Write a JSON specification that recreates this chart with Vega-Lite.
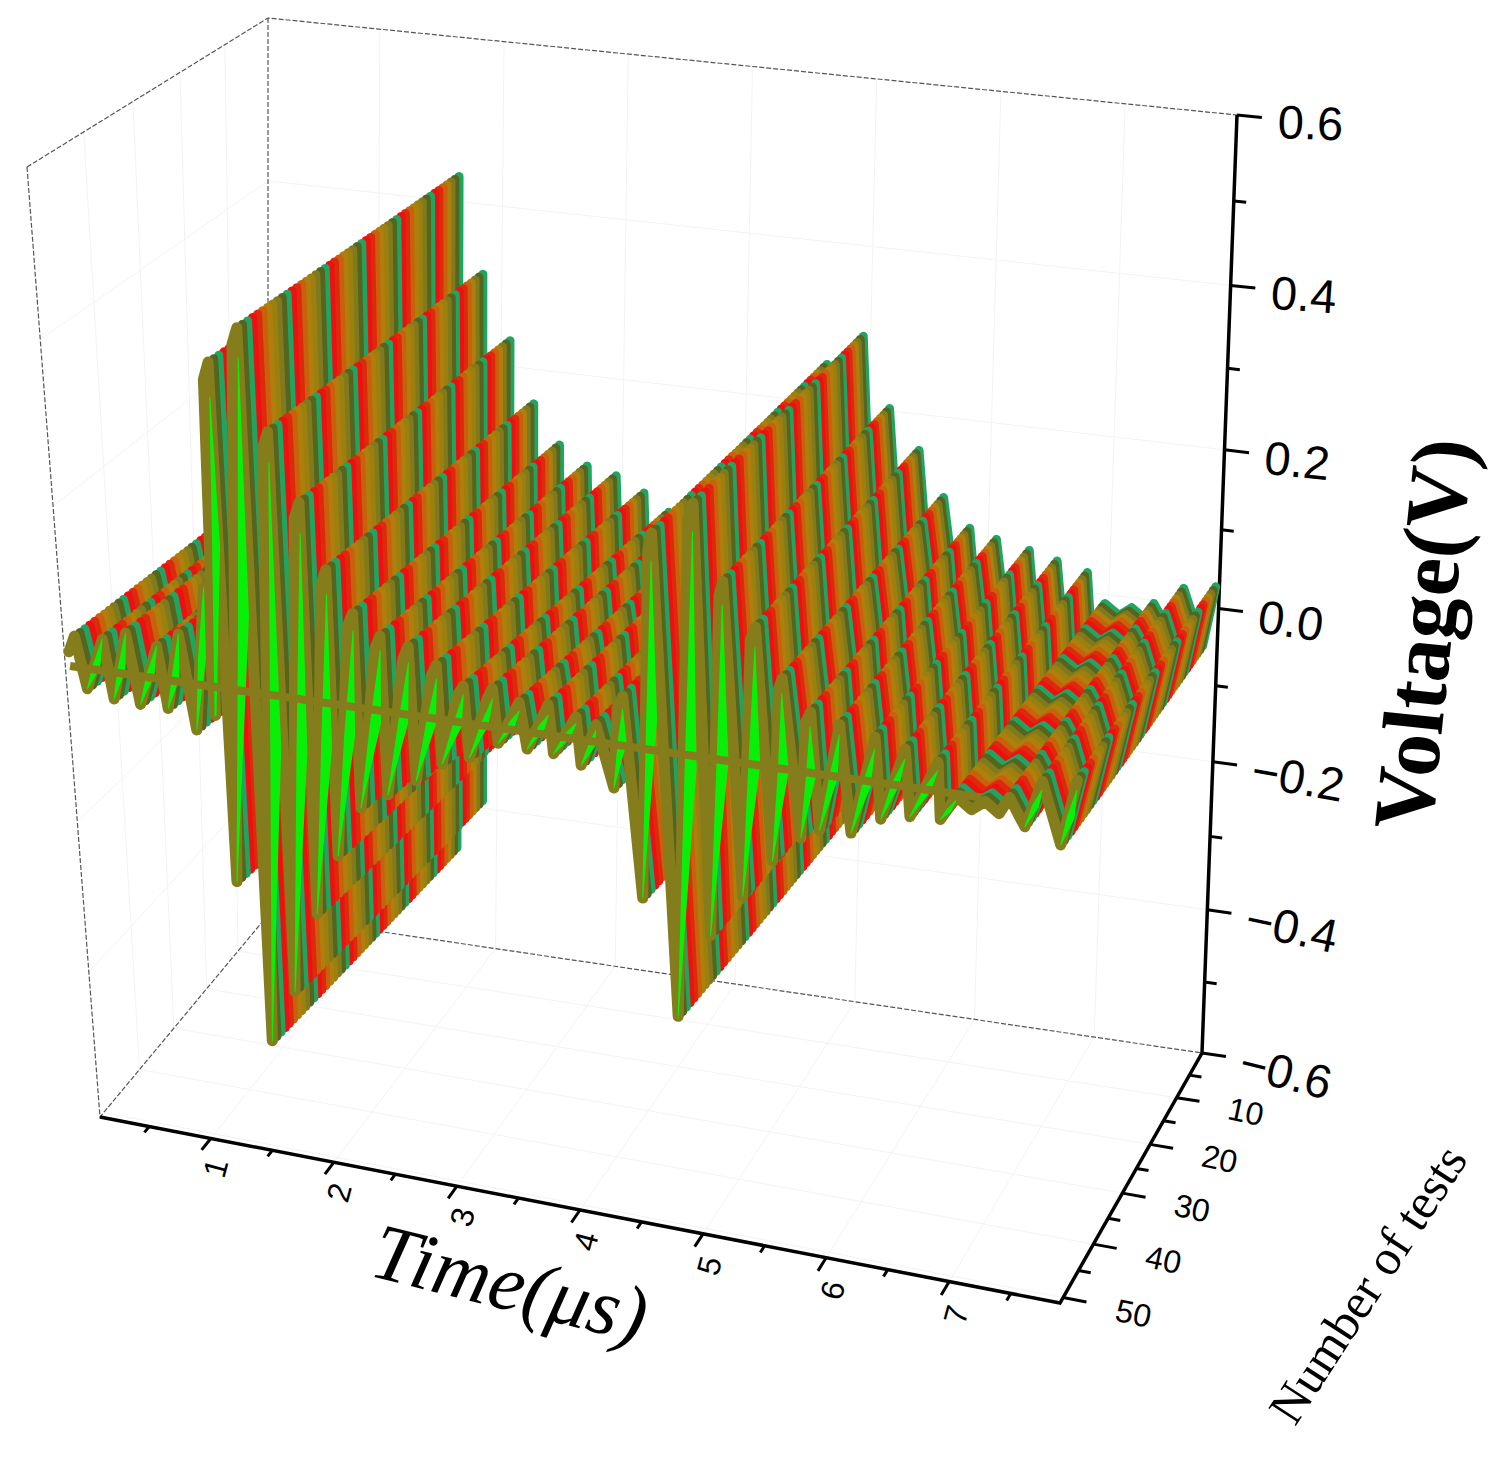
{"$schema":"https://vega.github.io/schema/vega-lite/v6.json","width":1502,"height":1471,"padding":0,"autosize":{"type":"none"},"background":"white","config":{"view":{"stroke":null}},
"datasets":{"wave":[
{"t":0.1,"v":0.014,"l":1},{"t":0.15,"v":0.035,"l":1},{"t":0.22,"v":-0.03,"l":1},{"t":0.36,"v":0.036,"l":1},{"t":0.42,"v":-0.038,"l":1},{"t":0.54,"v":0.048,"l":1},{"t":0.62,"v":-0.04,"l":1},{"t":0.77,"v":0.037,"l":1},{"t":0.83,"v":-0.04,"l":1},{"t":0.94,"v":0.056,"l":1},{"t":1.04,"v":-0.062,"l":1},{"t":1.15,"v":0.118,"l":1},{"t":1.19,"v":-0.04,"l":1},
{"t":1.23,"v":0.37,"l":2},{"t":1.27,"v":0.391,"l":2},{"t":1.29,"v":-0.251,"l":2},
{"t":1.45,"v":0.415,"l":3},{"t":1.49,"v":0.435,"l":3},{"t":1.51,"v":-0.456,"l":3},
{"t":1.64,"v":0.297,"l":4},{"t":1.68,"v":0.317,"l":4},{"t":1.71,"v":-0.384,"l":4},
{"t":1.85,"v":0.217,"l":5},{"t":1.89,"v":0.237,"l":5},{"t":1.91,"v":-0.276,"l":5},
{"t":2.03,"v":0.14,"l":6},{"t":2.07,"v":0.16,"l":6},{"t":2.09,"v":-0.196,"l":6},
{"t":2.22,"v":0.095,"l":7},{"t":2.26,"v":0.111,"l":7},{"t":2.28,"v":-0.13,"l":7},
{"t":2.42,"v":0.072,"l":8},{"t":2.46,"v":0.088,"l":8},{"t":2.49,"v":-0.108,"l":8},
{"t":2.63,"v":0.064,"l":9},{"t":2.67,"v":0.08,"l":9},{"t":2.71,"v":-0.085,"l":9},
{"t":2.84,"v":0.048,"l":10},{"t":2.88,"v":0.062,"l":10},{"t":2.91,"v":-0.059,"l":10},
{"t":3.04,"v":0.03,"l":11},{"t":3.08,"v":0.041,"l":11},{"t":3.12,"v":-0.046,"l":11},
{"t":3.26,"v":0.03,"l":12},{"t":3.3,"v":0.043,"l":12},{"t":3.34,"v":-0.023,"l":12},{"t":3.5,"v":0.031,"l":12},{"t":3.56,"v":-0.025,"l":12},{"t":3.72,"v":0.033,"l":12},{"t":3.76,"v":-0.026,"l":12},{"t":3.93,"v":0.023,"l":12},{"t":3.97,"v":-0.035,"l":12},{"t":4.08,"v":0.017,"l":12},{"t":4.22,"v":-0.057,"l":12},
{"t":4.24,"v":0.04,"l":13},{"t":4.28,"v":0.056,"l":13},{"t":4.45,"v":-0.188,"l":13},
{"t":4.455,"v":0.233,"l":14},{"t":4.48,"v":0.253,"l":14},{"t":4.74,"v":-0.33,"l":14},
{"t":4.745,"v":0.273,"l":15},{"t":4.78,"v":0.293,"l":15},{"t":4.98,"v":-0.221,"l":15},
{"t":4.985,"v":0.19,"l":16},{"t":5.01,"v":0.207,"l":16},{"t":5.22,"v":-0.166,"l":16},
{"t":5.225,"v":0.143,"l":17},{"t":5.26,"v":0.159,"l":17},{"t":5.44,"v":-0.117,"l":17},
{"t":5.445,"v":0.09,"l":18},{"t":5.47,"v":0.103,"l":18},{"t":5.65,"v":-0.084,"l":18},
{"t":5.655,"v":0.055,"l":19},{"t":5.69,"v":0.068,"l":19},{"t":5.79,"v":-0.071,"l":19},{"t":5.91,"v":0.058,"l":19},{"t":6.03,"v":-0.069,"l":19},{"t":6.18,"v":0.049,"l":19},{"t":6.25,"v":-0.047,"l":19},{"t":6.41,"v":0.04,"l":19},{"t":6.47,"v":-0.039,"l":19},{"t":6.66,"v":0.03,"l":19},{"t":6.7,"v":-0.037,"l":19},{"t":6.81,"v":-0.007,"l":19},{"t":6.93,"v":-0.02,"l":19},{"t":7.03,"v":-0.008,"l":19},{"t":7.14,"v":-0.02,"l":19},{"t":7.21,"v":0.001,"l":19},{"t":7.34,"v":-0.031,"l":19},{"t":7.45,"v":0.025,"l":19},{"t":7.62,"v":-0.046,"l":19},{"t":7.71,"v":0.032,"l":19}],
"rise":[
{"r":"w1","t":0.22,"v":-0.03,"z":1},{"r":"w1","t":0.3,"v":0.0,"z":8},{"r":"w1","t":0.36,"v":0.036,"z":0},
{"r":"w2","t":0.42,"v":-0.038,"z":1},{"r":"w2","t":0.49,"v":0.0,"z":8},{"r":"w2","t":0.54,"v":0.048,"z":0},
{"r":"w3","t":0.62,"v":-0.04,"z":1},{"r":"w3","t":0.71,"v":0.0,"z":8},{"r":"w3","t":0.77,"v":0.037,"z":0},
{"r":"w4","t":0.83,"v":-0.04,"z":1},{"r":"w4","t":0.9,"v":0.0,"z":8},{"r":"w4","t":0.94,"v":0.056,"z":0},
{"r":"w5","t":1.04,"v":-0.062,"z":1},{"r":"w5","t":1.11,"v":0.03,"z":8},{"r":"w5","t":1.15,"v":0.118,"z":0},
{"r":"a","t":1.19,"v":-0.04,"z":2},{"r":"a","t":1.26,"v":0.17,"z":8},{"r":"a","t":1.27,"v":0.35,"z":0},
{"r":"b","t":1.29,"v":-0.251,"z":1},{"r":"b","t":1.44,"v":0.09,"z":11},{"r":"b","t":1.49,"v":0.4,"z":0},
{"r":"c","t":1.51,"v":-0.456,"z":1},{"r":"c","t":1.64,"v":-0.07,"z":11},{"r":"c","t":1.68,"v":0.28,"z":0},
{"r":"d","t":1.71,"v":-0.384,"z":1},{"r":"d","t":1.84,"v":-0.07,"z":11},{"r":"d","t":1.89,"v":0.2,"z":0},
{"r":"e","t":1.91,"v":-0.276,"z":1},{"r":"e","t":2.03,"v":-0.06,"z":11},{"r":"e","t":2.07,"v":0.13,"z":0},
{"r":"f","t":2.09,"v":-0.196,"z":1},{"r":"f","t":2.21,"v":-0.04,"z":11},{"r":"f","t":2.26,"v":0.09,"z":0},
{"r":"g","t":2.28,"v":-0.13,"z":1},{"r":"g","t":2.41,"v":-0.02,"z":11},{"r":"g","t":2.46,"v":0.07,"z":0},
{"r":"h","t":2.49,"v":-0.108,"z":1},{"r":"h","t":2.62,"v":-0.015,"z":10},{"r":"h","t":2.67,"v":0.06,"z":0},
{"r":"i","t":2.71,"v":-0.085,"z":1},{"r":"i","t":2.83,"v":-0.012,"z":10},{"r":"i","t":2.88,"v":0.045,"z":0},
{"r":"j","t":2.91,"v":-0.059,"z":1},{"r":"j","t":3.03,"v":-0.009,"z":9},{"r":"j","t":3.08,"v":0.03,"z":0},
{"r":"k","t":3.12,"v":-0.046,"z":1},{"r":"k","t":3.24,"v":-0.002,"z":8},{"r":"k","t":3.3,"v":0.03,"z":0},
{"r":"l","t":3.34,"v":-0.023,"z":1},{"r":"l","t":3.45,"v":0.004,"z":7},{"r":"l","t":3.5,"v":0.02,"z":0},
{"r":"m","t":3.56,"v":-0.025,"z":1},{"r":"m","t":3.67,"v":0.004,"z":7},{"r":"m","t":3.72,"v":0.02,"z":0},
{"r":"n","t":3.76,"v":-0.026,"z":1},{"r":"n","t":3.87,"v":-0.001,"z":7},{"r":"n","t":3.93,"v":0.015,"z":0},
{"r":"o","t":3.97,"v":-0.035,"z":1},{"r":"o","t":4.05,"v":-0.009,"z":7},{"r":"o","t":4.08,"v":0.01,"z":0},
{"r":"p","t":4.22,"v":-0.057,"z":1},{"r":"p","t":4.28,"v":0.0,"z":9},{"r":"p","t":4.28,"v":0.04,"z":0},
{"r":"q","t":4.45,"v":-0.188,"z":1},{"r":"q","t":4.5,"v":0.032,"z":11},{"r":"q","t":4.48,"v":0.22,"z":0},
{"r":"r","t":4.74,"v":-0.33,"z":1},{"r":"r","t":4.8,"v":-0.02,"z":12},{"r":"r","t":4.78,"v":0.26,"z":0},
{"r":"s","t":4.98,"v":-0.221,"z":1},{"r":"s","t":5.04,"v":-0.007,"z":12},{"r":"s","t":5.01,"v":0.18,"z":0},
{"r":"t","t":5.22,"v":-0.166,"z":1},{"r":"t","t":5.28,"v":-0.004,"z":12},{"r":"t","t":5.26,"v":0.135,"z":0},
{"r":"u","t":5.44,"v":-0.117,"z":1},{"r":"u","t":5.5,"v":-0.007,"z":11},{"r":"u","t":5.47,"v":0.085,"z":0},
{"r":"v","t":5.65,"v":-0.084,"z":1},{"r":"v","t":5.71,"v":-0.008,"z":10},{"r":"v","t":5.69,"v":0.05,"z":0},
{"r":"x","t":5.79,"v":-0.071,"z":1},{"r":"x","t":5.88,"v":-0.006,"z":9},{"r":"x","t":5.91,"v":0.045,"z":0},
{"r":"y","t":6.03,"v":-0.069,"z":1},{"r":"y","t":6.13,"v":-0.01,"z":9},{"r":"y","t":6.18,"v":0.035,"z":0},
{"r":"z","t":6.25,"v":-0.047,"z":1},{"r":"z","t":6.35,"v":-0.003,"z":8},{"r":"z","t":6.41,"v":0.028,"z":0},
{"r":"aa","t":6.47,"v":-0.039,"z":1},{"r":"aa","t":6.59,"v":-0.004,"z":8},{"r":"aa","t":6.66,"v":0.02,"z":0},
{"r":"ab","t":6.7,"v":-0.037,"z":1},{"r":"ab","t":6.76,"v":-0.025,"z":5},{"r":"ab","t":6.81,"v":-0.012,"z":0},
{"r":"ac","t":7.34,"v":-0.031,"z":1},{"r":"ac","t":7.41,"v":-0.005,"z":7},{"r":"ac","t":7.45,"v":0.015,"z":0},
{"r":"ad","t":7.62,"v":-0.046,"z":1},{"r":"ad","t":7.68,"v":-0.012,"z":8},{"r":"ad","t":7.71,"v":0.02,"z":0},
{"r":"base","t":0.1,"v":-0.004,"z":8},{"r":"base","t":7.0,"v":-0.004,"z":8}],
"aux":[
{"k":"f","g":"f1","t":0.1,"n":51,"v":0.6},{"k":"f","g":"f1","t":0.1,"n":0,"v":0.6},{"k":"f","g":"f1","t":7.9,"n":0,"v":0.6},
{"k":"f","g":"f2","t":0.1,"n":0,"v":0.6},{"k":"f","g":"f2","t":0.1,"n":0,"v":-0.6},{"k":"f","g":"f2","t":7.9,"n":0,"v":-0.6},
{"k":"f","g":"f3","t":0.1,"n":51,"v":0.6},{"k":"f","g":"f3","t":0.1,"n":51,"v":-0.6},{"k":"f","g":"f3","t":0.1,"n":0,"v":-0.6},
{"k":"a","g":"a","t":0.1,"n":51,"v":-0.6},{"k":"a","g":"a","t":7.9,"n":51,"v":-0.6},{"k":"a","g":"a","t":7.9,"n":0,"v":-0.6},{"k":"a","g":"a","t":7.9,"n":0,"v":0.6},
{"k":"g","g":"g1","t":1,"n":0,"v":-0.6},{"k":"g","g":"g1","t":1,"n":51,"v":-0.6},{"k":"g","g":"g2","t":2,"n":0,"v":-0.6},{"k":"g","g":"g2","t":2,"n":51,"v":-0.6},{"k":"g","g":"g3","t":3,"n":0,"v":-0.6},{"k":"g","g":"g3","t":3,"n":51,"v":-0.6},{"k":"g","g":"g4","t":4,"n":0,"v":-0.6},{"k":"g","g":"g4","t":4,"n":51,"v":-0.6},{"k":"g","g":"g5","t":5,"n":0,"v":-0.6},{"k":"g","g":"g5","t":5,"n":51,"v":-0.6},{"k":"g","g":"g6","t":6,"n":0,"v":-0.6},{"k":"g","g":"g6","t":6,"n":51,"v":-0.6},{"k":"g","g":"g7","t":7,"n":0,"v":-0.6},{"k":"g","g":"g7","t":7,"n":51,"v":-0.6},
{"k":"g","g":"h1","t":0.1,"n":10,"v":-0.6},{"k":"g","g":"h1","t":7.9,"n":10,"v":-0.6},{"k":"g","g":"h2","t":0.1,"n":20,"v":-0.6},{"k":"g","g":"h2","t":7.9,"n":20,"v":-0.6},{"k":"g","g":"h3","t":0.1,"n":30,"v":-0.6},{"k":"g","g":"h3","t":7.9,"n":30,"v":-0.6},{"k":"g","g":"h4","t":0.1,"n":40,"v":-0.6},{"k":"g","g":"h4","t":7.9,"n":40,"v":-0.6},{"k":"g","g":"h5","t":0.1,"n":50,"v":-0.6},{"k":"g","g":"h5","t":7.9,"n":50,"v":-0.6},
{"k":"g","g":"b1","t":1,"n":0,"v":-0.6},{"k":"g","g":"b1","t":1,"n":0,"v":0.6},{"k":"g","g":"b2","t":2,"n":0,"v":-0.6},{"k":"g","g":"b2","t":2,"n":0,"v":0.6},{"k":"g","g":"b3","t":3,"n":0,"v":-0.6},{"k":"g","g":"b3","t":3,"n":0,"v":0.6},{"k":"g","g":"b4","t":4,"n":0,"v":-0.6},{"k":"g","g":"b4","t":4,"n":0,"v":0.6},{"k":"g","g":"b5","t":5,"n":0,"v":-0.6},{"k":"g","g":"b5","t":5,"n":0,"v":0.6},{"k":"g","g":"b6","t":6,"n":0,"v":-0.6},{"k":"g","g":"b6","t":6,"n":0,"v":0.6},{"k":"g","g":"b7","t":7,"n":0,"v":-0.6},{"k":"g","g":"b7","t":7,"n":0,"v":0.6},
{"k":"g","g":"c1","t":0.1,"n":51,"v":-0.4},{"k":"g","g":"c1","t":0.1,"n":0,"v":-0.4},{"k":"g","g":"c1","t":7.9,"n":0,"v":-0.4},{"k":"g","g":"c2","t":0.1,"n":51,"v":-0.2},{"k":"g","g":"c2","t":0.1,"n":0,"v":-0.2},{"k":"g","g":"c2","t":7.9,"n":0,"v":-0.2},{"k":"g","g":"c3","t":0.1,"n":51,"v":0},{"k":"g","g":"c3","t":0.1,"n":0,"v":0},{"k":"g","g":"c3","t":7.9,"n":0,"v":0},{"k":"g","g":"c4","t":0.1,"n":51,"v":0.2},{"k":"g","g":"c4","t":0.1,"n":0,"v":0.2},{"k":"g","g":"c4","t":7.9,"n":0,"v":0.2},{"k":"g","g":"c5","t":0.1,"n":51,"v":0.4},{"k":"g","g":"c5","t":0.1,"n":0,"v":0.4},{"k":"g","g":"c5","t":7.9,"n":0,"v":0.4},
{"k":"g","g":"d1","t":0.1,"n":10,"v":-0.6},{"k":"g","g":"d1","t":0.1,"n":10,"v":0.6},{"k":"g","g":"d2","t":0.1,"n":20,"v":-0.6},{"k":"g","g":"d2","t":0.1,"n":20,"v":0.6},{"k":"g","g":"d3","t":0.1,"n":30,"v":-0.6},{"k":"g","g":"d3","t":0.1,"n":30,"v":0.6},{"k":"g","g":"d4","t":0.1,"n":40,"v":-0.6},{"k":"g","g":"d4","t":0.1,"n":40,"v":0.6},
{"k":"t","g":"t05","t":0.5,"n":51,"v":-0.6},{"k":"t","g":"t05","t":0.5,"n":52.3,"v":-0.6},{"k":"t","g":"t10","t":1,"n":51,"v":-0.6},{"k":"t","g":"t10","t":1,"n":53.5,"v":-0.6},{"k":"t","g":"t15","t":1.5,"n":51,"v":-0.6},{"k":"t","g":"t15","t":1.5,"n":52.3,"v":-0.6},{"k":"t","g":"t20","t":2,"n":51,"v":-0.6},{"k":"t","g":"t20","t":2,"n":53.5,"v":-0.6},{"k":"t","g":"t25","t":2.5,"n":51,"v":-0.6},{"k":"t","g":"t25","t":2.5,"n":52.3,"v":-0.6},{"k":"t","g":"t30","t":3,"n":51,"v":-0.6},{"k":"t","g":"t30","t":3,"n":53.5,"v":-0.6},{"k":"t","g":"t35","t":3.5,"n":51,"v":-0.6},{"k":"t","g":"t35","t":3.5,"n":52.3,"v":-0.6},{"k":"t","g":"t40","t":4,"n":51,"v":-0.6},{"k":"t","g":"t40","t":4,"n":53.5,"v":-0.6},{"k":"t","g":"t45","t":4.5,"n":51,"v":-0.6},{"k":"t","g":"t45","t":4.5,"n":52.3,"v":-0.6},{"k":"t","g":"t50","t":5,"n":51,"v":-0.6},{"k":"t","g":"t50","t":5,"n":53.5,"v":-0.6},{"k":"t","g":"t55","t":5.5,"n":51,"v":-0.6},{"k":"t","g":"t55","t":5.5,"n":52.3,"v":-0.6},{"k":"t","g":"t60","t":6,"n":51,"v":-0.6},{"k":"t","g":"t60","t":6,"n":53.5,"v":-0.6},{"k":"t","g":"t65","t":6.5,"n":51,"v":-0.6},{"k":"t","g":"t65","t":6.5,"n":52.3,"v":-0.6},{"k":"t","g":"t70","t":7,"n":51,"v":-0.6},{"k":"t","g":"t70","t":7,"n":53.5,"v":-0.6},{"k":"t","g":"t75","t":7.5,"n":51,"v":-0.6},{"k":"t","g":"t75","t":7.5,"n":52.3,"v":-0.6},
{"k":"t","g":"n05","t":7.9,"n":5,"v":-0.6},{"k":"t","g":"n05","t":8.0,"n":5,"v":-0.6},{"k":"t","g":"n10","t":7.9,"n":10,"v":-0.6},{"k":"t","g":"n10","t":8.09,"n":10,"v":-0.6},{"k":"t","g":"n15","t":7.9,"n":15,"v":-0.6},{"k":"t","g":"n15","t":8.0,"n":15,"v":-0.6},{"k":"t","g":"n20","t":7.9,"n":20,"v":-0.6},{"k":"t","g":"n20","t":8.09,"n":20,"v":-0.6},{"k":"t","g":"n25","t":7.9,"n":25,"v":-0.6},{"k":"t","g":"n25","t":8.0,"n":25,"v":-0.6},{"k":"t","g":"n30","t":7.9,"n":30,"v":-0.6},{"k":"t","g":"n30","t":8.09,"n":30,"v":-0.6},{"k":"t","g":"n35","t":7.9,"n":35,"v":-0.6},{"k":"t","g":"n35","t":8.0,"n":35,"v":-0.6},{"k":"t","g":"n40","t":7.9,"n":40,"v":-0.6},{"k":"t","g":"n40","t":8.09,"n":40,"v":-0.6},{"k":"t","g":"n45","t":7.9,"n":45,"v":-0.6},{"k":"t","g":"n45","t":8.0,"n":45,"v":-0.6},{"k":"t","g":"n50","t":7.9,"n":50,"v":-0.6},{"k":"t","g":"n50","t":8.09,"n":50,"v":-0.6},
{"k":"t","g":"v1","t":7.9,"n":0,"v":0.6},{"k":"t","g":"v1","t":8.1,"n":0,"v":0.6},{"k":"t","g":"v2","t":7.9,"n":0,"v":0.5},{"k":"t","g":"v2","t":8.0,"n":0,"v":0.5},{"k":"t","g":"v3","t":7.9,"n":0,"v":0.4},{"k":"t","g":"v3","t":8.1,"n":0,"v":0.4},{"k":"t","g":"v4","t":7.9,"n":0,"v":0.3},{"k":"t","g":"v4","t":8.0,"n":0,"v":0.3},{"k":"t","g":"v5","t":7.9,"n":0,"v":0.2},{"k":"t","g":"v5","t":8.1,"n":0,"v":0.2},{"k":"t","g":"v6","t":7.9,"n":0,"v":0.1},{"k":"t","g":"v6","t":8.0,"n":0,"v":0.1},{"k":"t","g":"v7","t":7.9,"n":0,"v":0},{"k":"t","g":"v7","t":8.1,"n":0,"v":0},{"k":"t","g":"v8","t":7.9,"n":0,"v":-0.1},{"k":"t","g":"v8","t":8.0,"n":0,"v":-0.1},{"k":"t","g":"v9","t":7.9,"n":0,"v":-0.2},{"k":"t","g":"v9","t":8.1,"n":0,"v":-0.2},{"k":"t","g":"va","t":7.9,"n":0,"v":-0.3},{"k":"t","g":"va","t":8.0,"n":0,"v":-0.3},{"k":"t","g":"vb","t":7.9,"n":0,"v":-0.4},{"k":"t","g":"vb","t":8.1,"n":0,"v":-0.4},{"k":"t","g":"vc","t":7.9,"n":0,"v":-0.5},{"k":"t","g":"vc","t":8.0,"n":0,"v":-0.5},{"k":"t","g":"vd","t":7.9,"n":0,"v":-0.6},{"k":"t","g":"vd","t":8.1,"n":0,"v":-0.6},
{"k":"lt","lab":"1","t":1,"n":55.5,"v":-0.6},{"k":"lt","lab":"2","t":2,"n":55.5,"v":-0.6},{"k":"lt","lab":"3","t":3,"n":55.5,"v":-0.6},{"k":"lt","lab":"4","t":4,"n":55.5,"v":-0.6},{"k":"lt","lab":"5","t":5,"n":55.5,"v":-0.6},{"k":"lt","lab":"6","t":6,"n":55.5,"v":-0.6},{"k":"lt","lab":"7","t":7,"n":55.5,"v":-0.6},
{"k":"ln","lab":"10","t":8.3,"n":10,"v":-0.6},{"k":"ln","lab":"20","t":8.3,"n":20,"v":-0.6},{"k":"ln","lab":"30","t":8.3,"n":30,"v":-0.6},{"k":"ln","lab":"40","t":8.3,"n":40,"v":-0.6},{"k":"ln","lab":"50","t":8.3,"n":50,"v":-0.6},
{"k":"lv","lab":"0.6","t":8.23,"n":0,"v":0.6},{"k":"lv","lab":"0.4","t":8.23,"n":0,"v":0.4},{"k":"lv","lab":"0.2","t":8.23,"n":0,"v":0.2},{"k":"lv","lab":"0.0","t":8.23,"n":0,"v":0},{"k":"lv","lab":"−0.2","t":8.23,"n":0,"v":-0.2},{"k":"lv","lab":"−0.4","t":8.23,"n":0,"v":-0.4},{"k":"lv","lab":"−0.6","t":8.23,"n":0,"v":-0.6},
{"k":"tv","lab":"Voltage(V)","t":9.6,"n":0,"v":0},{"k":"tt","lab":"Time(μs)","t":3.87,"n":66.4,"v":-0.6},{"k":"tn","lab":"Number of tests","t":10.12,"n":38.4,"v":-0.6}
]},
"layer":[
{"data":{"name":"aux"},"transform":[
{"calculate":"(datum.t-0.1)/7.8","as":"u"},{"calculate":"datum.n/51","as":"fn"},{"calculate":"datum.fn/(datum.fn+1.12*(1-datum.fn))","as":"s"},{"calculate":"(datum.v+0.6)/1.2","as":"fv"},{"calculate":"datum.fv/(datum.fv+1.11*(1-datum.fv))","as":"w"},
{"calculate":"((1-datum.s)*(268+934*datum.u)+datum.s*(100+960*datum.u))*(1-datum.w)+((1-datum.s)*(268+969*datum.u)+datum.s*(27+1113*datum.u))*datum.w","as":"px"},
{"calculate":"((1-datum.s)*(915+138*datum.u)+datum.s*(1117+186*datum.u))*(1-datum.w)+((1-datum.s)*(18+97*datum.u)+datum.s*(167+108*datum.u))*datum.w","as":"py"},
{"calculate":"8-10*datum.v","as":"ang"}],
"encoding":{"x":{"field":"px","type":"quantitative","scale":{"domain":[0,1502],"range":[0,1502]},"axis":null},"y":{"field":"py","type":"quantitative","scale":{"domain":[0,1471],"range":[0,1471]},"axis":null}},
"layer":[
{"transform":[{"filter":"datum.k=='g'"}],"mark":{"type":"line","stroke":"#f3f3f3","strokeWidth":1},"encoding":{"detail":{"field":"g"},"order":{"field":"ord","type":"quantitative"}}},
{"transform":[{"filter":"datum.k=='f'"}],"mark":{"type":"line","stroke":"#555555","strokeWidth":1.2,"strokeDash":[5,2]},"encoding":{"detail":{"field":"g"},"order":{"field":"ord","type":"quantitative"}}},
{"transform":[{"filter":"datum.k=='t'"}],"mark":{"type":"line","stroke":"#000000","strokeWidth":3},"encoding":{"detail":{"field":"g"},"order":{"field":"ord","type":"quantitative"}}},
{"transform":[{"filter":"datum.k=='a'"}],"mark":{"type":"line","stroke":"#000000","strokeWidth":3.5,"strokeJoin":"miter"},"encoding":{"order":{"field":"ord","type":"quantitative"}}},
{"transform":[{"filter":"datum.k=='lt'"}],"mark":{"type":"text","font":"Liberation Sans","fontSize":32,"angle":285,"align":"center","baseline":"middle","dx":-3,"dy":24},"encoding":{"text":{"field":"lab"}}},
{"transform":[{"filter":"datum.k=='ln'"}],"mark":{"type":"text","font":"Liberation Sans","fontSize":32,"angle":12,"align":"center","baseline":"middle","dx":22,"dy":3},"encoding":{"text":{"field":"lab"}}},
{"transform":[{"filter":"datum.k=='lv'"}],"mark":{"type":"text","font":"Liberation Sans","fontSize":47,"align":"left","baseline":"middle","dy":5},"encoding":{"text":{"field":"lab"},"angle":{"field":"ang","type":"quantitative","scale":null}}},
{"transform":[{"filter":"datum.k=='tv'"}],"mark":{"type":"text","font":"Liberation Serif","fontWeight":"bold","fontSize":86,"angle":276,"align":"center","baseline":"middle"},"encoding":{"text":{"field":"lab"}}},
{"transform":[{"filter":"datum.k=='tt'"}],"mark":{"type":"text","font":"Liberation Serif","fontStyle":"italic","fontSize":80,"angle":14,"align":"center","baseline":"middle"},"encoding":{"text":{"field":"lab"}}},
{"transform":[{"filter":"datum.k=='tn'"}],"mark":{"type":"text","font":"Liberation Serif","fontSize":50,"angle":303,"align":"center","baseline":"middle"},"encoding":{"text":{"field":"lab"}}}
]},
{"data":{"name":"wave"},"transform":[
{"calculate":"[1,2,3,4,5,6,7,8,9,10,11,12,13,14,15,16,17,18,19,20,21,22,23,24,25,26,27,28,29,30,31,32,33,34,35,36,37,38,39,40,41,42,43,44,45,46,47,48,49,50]","as":"test"},{"flatten":["test"]},
{"calculate":"datum.test/51","as":"fn"},{"calculate":"datum.fn/(datum.fn+1.12*(1-datum.fn))","as":"s"},{"calculate":"(datum.t-0.1)/7.8","as":"u0"},{"calculate":"datum.u0+(1-datum.s)*(0.023+0.02*exp(-pow((datum.u0-0.38)/0.12,2)))","as":"u"},{"calculate":"(datum.v+0.6)/1.2","as":"fv"},{"calculate":"datum.fv/(datum.fv+1.11*(1-datum.fv))","as":"w"},
{"calculate":"((1-datum.s)*(268+934*datum.u)+datum.s*(100+960*datum.u))*(1-datum.w)+((1-datum.s)*(268+969*datum.u)+datum.s*(27+1113*datum.u))*datum.w","as":"px"},
{"calculate":"((1-datum.s)*(915+138*datum.u)+datum.s*(1117+186*datum.u))*(1-datum.w)+((1-datum.s)*(18+97*datum.u)+datum.s*(167+108*datum.u))*datum.w","as":"py"},
{"calculate":"floor(((50-datum.test)%7.8333)*1.0213)","as":"band"},{"calculate":"datum.test*100+datum.l","as":"seg"}],
"mark":{"type":"line","strokeWidth":9,"strokeJoin":"round","strokeCap":"round"},
"encoding":{"x":{"field":"px","type":"quantitative","scale":{"domain":[0,1502],"range":[0,1502]},"axis":null},"y":{"field":"py","type":"quantitative","scale":{"domain":[0,1471],"range":[0,1471]},"axis":null},"detail":{"field":"seg"},"order":{"field":"t","type":"quantitative"},"color":{"field":"band","type":"ordinal","legend":null,"scale":{"domain":[0,1,2,3,4,5,6,7],"range":["#807a1e","#55641e","#20a561","#ee1010","#dd2a0c","#c8600c","#ae7f0c","#9c800f"]}}}},
{"data":{"name":"wave"},"transform":[
{"calculate":"50/51","as":"fn"},{"calculate":"datum.fn/(datum.fn+1.12*(1-datum.fn))","as":"s"},{"calculate":"(datum.t-0.1)/7.8","as":"u"},{"calculate":"(datum.v+0.6)/1.2","as":"fv"},{"calculate":"datum.fv/(datum.fv+1.11*(1-datum.fv))","as":"w"},
{"calculate":"((1-datum.s)*(268+934*datum.u)+datum.s*(100+960*datum.u))*(1-datum.w)+((1-datum.s)*(268+969*datum.u)+datum.s*(27+1113*datum.u))*datum.w","as":"px"},
{"calculate":"((1-datum.s)*(915+138*datum.u)+datum.s*(1117+186*datum.u))*(1-datum.w)+((1-datum.s)*(18+97*datum.u)+datum.s*(167+108*datum.u))*datum.w","as":"py"}],
"mark":{"type":"line","stroke":"#857c1c","strokeWidth":11,"strokeJoin":"round","strokeCap":"round"},
"encoding":{"x":{"field":"px","type":"quantitative","scale":{"domain":[0,1502],"range":[0,1502]},"axis":null},"y":{"field":"py","type":"quantitative","scale":{"domain":[0,1471],"range":[0,1471]},"axis":null},"order":{"field":"t","type":"quantitative"}}},
{"data":{"name":"rise"},"transform":[
{"calculate":"50/51","as":"fn"},{"calculate":"datum.fn/(datum.fn+1.12*(1-datum.fn))","as":"s"},{"calculate":"(datum.t-0.1)/7.8","as":"u"},{"calculate":"(datum.v+0.6)/1.2","as":"fv"},{"calculate":"datum.fv/(datum.fv+1.11*(1-datum.fv))","as":"w"},
{"calculate":"((1-datum.s)*(268+934*datum.u)+datum.s*(100+960*datum.u))*(1-datum.w)+((1-datum.s)*(268+969*datum.u)+datum.s*(27+1113*datum.u))*datum.w","as":"px"},
{"calculate":"((1-datum.s)*(915+138*datum.u)+datum.s*(1117+186*datum.u))*(1-datum.w)+((1-datum.s)*(18+97*datum.u)+datum.s*(167+108*datum.u))*datum.w","as":"py"}],
"encoding":{"x":{"field":"px","type":"quantitative","scale":{"domain":[0,1502],"range":[0,1502]},"axis":null},"y":{"field":"py","type":"quantitative","scale":{"domain":[0,1471],"range":[0,1471]},"axis":null}},
"layer":[
{"transform":[{"filter":"datum.r!='base'"}],"mark":{"type":"trail","fill":"#08f008","color":"#08f008"},"encoding":{"detail":{"field":"r"},"order":{"field":"v","type":"quantitative"},"size":{"field":"z","type":"quantitative","scale":null,"legend":null}}},
{"transform":[{"filter":"datum.r=='base'"}],"mark":{"type":"line","stroke":"#857c1c","strokeWidth":8},"encoding":{"order":{"field":"t","type":"quantitative"}}}
]}
]}
